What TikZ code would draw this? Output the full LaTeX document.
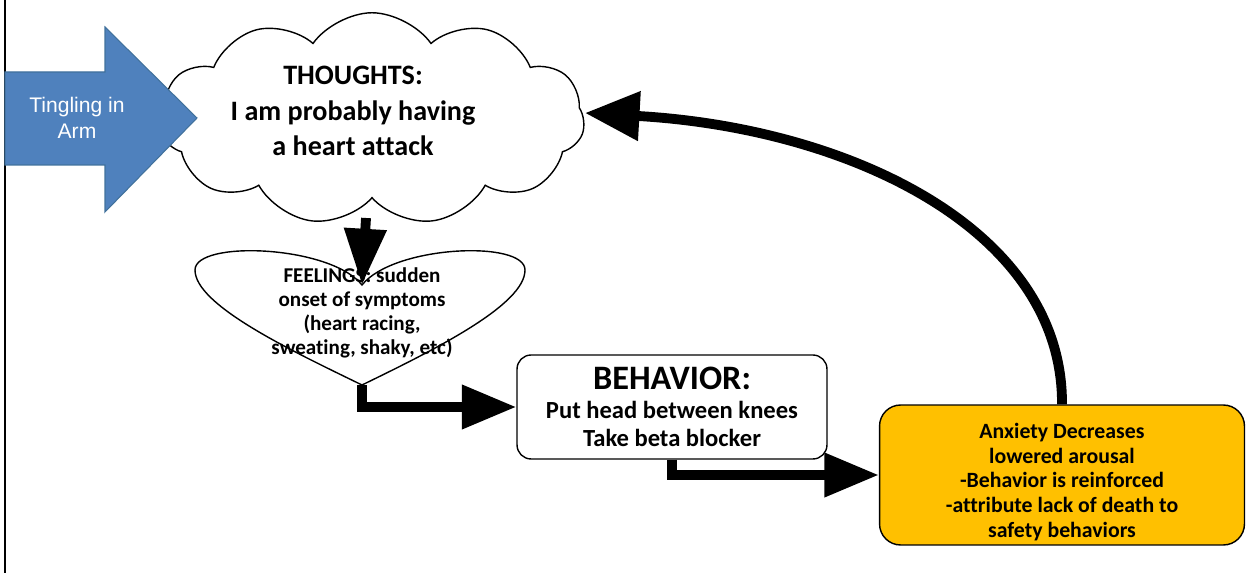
\documentclass[tikz,border=0pt]{standalone}
\usepackage{fontspec}
\setmainfont[Ligatures=NoCommon]{Carlito}
\newfontfamily\armfont{Liberation Sans}
\usetikzlibrary{shapes.symbols,arrows.meta,positioning}
\definecolor{arrowblue}{HTML}{4F81BD}
\definecolor{arrowedge}{HTML}{41719C}
\definecolor{anxyellow}{HTML}{FFC000}
\tikzset{
  flow/.style={line width=5.6pt,-{Triangle[length=31pt,width=24pt]}},
  box/.style={draw,line width=0.8pt,rounded corners=8pt,align=center,font=\bfseries},
}

\begin{document}
\begin{tikzpicture}[x=0.02cm,y=-0.02cm]
	\useasboundingbox (0,0) rectangle (1250,573);
	\draw[line width=1.2pt] (5,0)--(5,573);
	% thoughts cloud
	\node[cloud,draw,line width=0.8pt,cloud puffs=11,cloud puff arc=110,cloud ignores aspect,minimum width=8.5cm,minimum height=4.25cm] (cloud) at (372,119) {};
	\node[font=\bfseries\fontsize{16}{20}\selectfont,align=center] (thoughts) at (353,111) {THOUGHTS:\\I am probably having\\a heart attack};
	% trigger arrow
	\draw[fill=arrowblue,draw=arrowedge,line width=0.6pt] (5,72)--(105,72)--(105,27)--(197,118)--(105,212)--(105,165)--(5,165)--cycle;
	\node[text=white,font=\armfont\fontsize{12}{14.5}\selectfont,align=center] (arm) at (77,118) {Tingling in\\Arm};
	% feelings heart
	\draw[line width=0.8pt,fill=white] (362,385) .. controls (290,350) and (195,305) .. (195,270) .. controls (195,240) and (330,245) .. (362,285) .. controls (394,245) and (525,240) .. (525,270) .. controls (525,305) and (434,350) .. (362,385);
	\coordinate (hearttip) at (362,385);
	\coordinate (heartdip) at (362,285);
	\node[font=\bfseries\fontsize{12}{13.6}\selectfont,align=center] (feelings) at (362,313) {FEELINGS: sudden\\onset of symptoms\\(heart racing,\\sweating, shaky, etc)};
	% behavior and result
	\node[box,minimum width=6.2cm,minimum height=2.08cm,font=\bfseries\fontsize{14}{16.3}\selectfont] (behavior) at (672,407) {{\fontsize{19.5}{20}\selectfont BEHAVIOR:}\\Put head between knees\\Take beta blocker};
	\node[box,fill=anxyellow,rounded corners=12pt,minimum width=7.3cm,minimum height=2.8cm] (anxiety) at (1062,475) {};
	\node[font=\bfseries\fontsize{12.4}{14}\selectfont,align=center] (anxtext) at (1062,482) {Anxiety Decreases\\lowered arousal\\-Behavior is reinforced\\-attribute lack of death to\\safety behaviors};
	% connectors
	\coordinate (thoughtsout) at (366,218);
	\coordinate (loopend) at (585,113);
	\draw[flow,-{Triangle[length=32pt,width=23pt]}] (thoughtsout) -- (heartdip);
	\draw[flow] (hearttip) |- (behavior.west);
	\draw[flow] (behavior.south) |- (anxiety.west);
	\draw[flow,-{Triangle[length=31pt,width=27pt]}] (anxiety.north) .. controls (1063,230) and (850,128) .. (loopend);
\end{tikzpicture}
\end{document}
